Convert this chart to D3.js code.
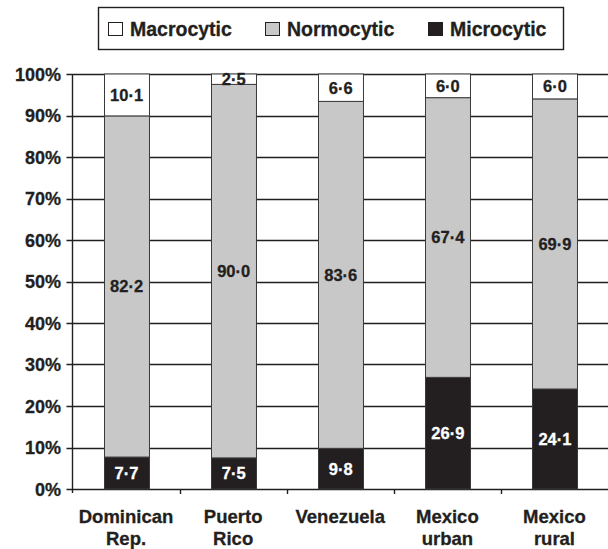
<!DOCTYPE html>
<html><head><meta charset="utf-8">
<script src="https://cdn.jsdelivr.net/npm/d3@7"></script>
<style>body{margin:0;background:#fff}svg{display:block;font-family:"Liberation Sans",Arial,sans-serif;font-weight:bold}</style>
</head><body><svg id="c" width="608" height="549"></svg>
<script>
const categories = [["Dominican","Rep."],["Puerto","Rico"],["Venezuela"],["Mexico","urban"],["Mexico","rural"]];
const microcytic = [7.7, 7.5, 9.8, 26.9, 24.1];
const normocytic = [82.2, 90.0, 83.6, 67.4, 69.9];
const macrocytic = [10.1, 2.5, 6.6, 6.0, 6.0];
const seriesNames = ["Microcytic","Normocytic","Macrocytic"];
const legendOrder = ["Macrocytic","Normocytic","Microcytic"];
const yTicks = [0,10,20,30,40,50,60,70,80,90,100];
const colors = {Microcytic:"#231f20", Normocytic:"#c8c8c8", Macrocytic:"#ffffff"};
const textColors = {Microcytic:"#ffffff", Normocytic:"#231f20", Macrocytic:"#231f20"};

(function(){
const svg = d3.select("#c");
const pL = 72.5, pR = 608, pT = 74, pB = 489;
const ink = "#231f20";
const x = d3.scaleBand().domain(d3.range(categories.length)).range([pL, pR]).paddingInner(0.58).paddingOuter(0.29);
const xOuter = d3.scaleBand().domain(d3.range(categories.length)).range([pL, pR]);
const y = d3.scaleLinear().domain([0,100]).range([pB, pT]);

svg.append("g").selectAll("line").data(yTicks).join("line")
  .attr("x1", pL-6).attr("x2", pR).attr("y1", d=>Math.round(y(d))+0.5).attr("y2", d=>Math.round(y(d))+0.5)
  .attr("stroke",ink).attr("stroke-width",1.4);

svg.append("g").selectAll("text").data(yTicks).join("text")
  .attr("x", 61).attr("y", d=>y(d)).attr("dy","0.37em").attr("text-anchor","end")
  .attr("font-size",18).attr("fill",ink).attr("stroke",ink).attr("stroke-width",0.3).text(d=>d+"%");

svg.append("line").attr("x1",pL).attr("x2",pL).attr("y1",pT).attr("y2",pB+4).attr("stroke",ink).attr("stroke-width",1.4);
svg.append("g").selectAll("line").data(d3.range(1,categories.length)).join("line")
  .attr("x1", d=>Math.round(xOuter(d))+0.5).attr("x2", d=>Math.round(xOuter(d))+0.5)
  .attr("y1", pB).attr("y2", pB+5).attr("stroke",ink).attr("stroke-width",1.4);

const rows = categories.map((c,i)=>({i, Microcytic:microcytic[i], Normocytic:normocytic[i], Macrocytic:macrocytic[i]}));
const stacked = d3.stack().keys(seriesNames)(rows);
const g = svg.append("g");
stacked.forEach(layer=>{
  const key = layer.key;
  g.append("g").selectAll("rect").data(layer).join("rect")
    .attr("x", (d,j)=>Math.round(x(j))+0.5).attr("width", x.bandwidth())
    .attr("y", d=>y(Math.min(d[1],100))).attr("height", d=>y(d[0])-y(Math.min(d[1],100)))
    .attr("fill", colors[key]).attr("stroke","#3a3a3a").attr("stroke-width",1);
});
stacked.forEach(layer=>{
  const key = layer.key;
  g.append("g").selectAll("text").data(layer).join("text")
    .attr("x", (d,j)=>x(j)+x.bandwidth()/2+0.5)
    .attr("y", d=>y((d[0]+Math.min(d[1],100))/2))
    .attr("dy","0.36em").attr("text-anchor","middle").attr("font-size",16.5)
    .attr("fill", textColors[key]).attr("stroke", textColors[key]).attr("stroke-width",0.3)
    .text(d=>(d[1]-d[0]).toFixed(1).replace(".","·"));
});

const cl = svg.append("g");
categories.forEach((lines,i)=>{
  const cx = x(i)+x.bandwidth()/2;
  const t = cl.append("text").attr("x", cx).attr("y",523).attr("text-anchor","middle")
    .attr("font-size",18.5).attr("fill",ink).attr("stroke",ink).attr("stroke-width",0.3);
  lines.forEach((ln,k)=>t.append("tspan").attr("x", cx).attr("dy", k===0?0:22).text(ln));
});

const lg = svg.append("g");
lg.append("rect").attr("x",98.5).attr("y",7.5).attr("width",465).attr("height",42).attr("fill","#fff").attr("stroke",ink).attr("stroke-width",1.4);
const legX = [108, 265, 428];
legendOrder.forEach((k,i)=>{
  lg.append("rect").attr("x",legX[i]+0.5).attr("y",22.5).attr("width",14).attr("height",13)
    .attr("fill",colors[k]).attr("stroke",ink).attr("stroke-width",1);
  lg.append("text").attr("x",legX[i]+22).attr("y",35.5).attr("font-size",19.5)
    .attr("fill",ink).attr("stroke",ink).attr("stroke-width",0.3).text(k);
});
})();
</script></body></html>
